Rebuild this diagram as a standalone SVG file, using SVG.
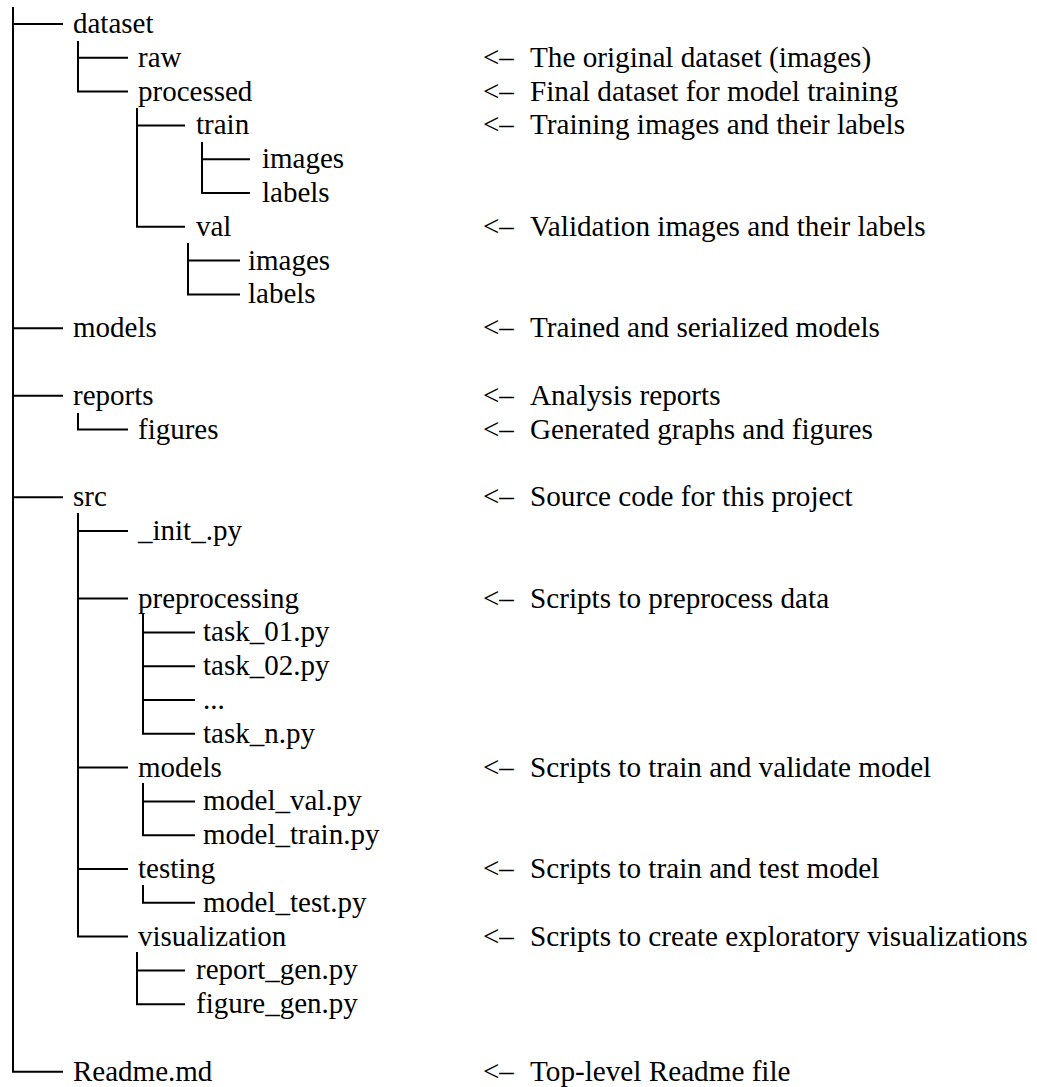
<svg xmlns="http://www.w3.org/2000/svg" width="1037" height="1087" viewBox="0 0 1037 1087">
<style>
text{font-family:'Liberation Serif','Times New Roman',serif;font-size:29px;fill:#000}
.d{font-size:29.2px}
.c path{fill:none;stroke:#000;stroke-width:2;stroke-linejoin:miter}
</style>
<rect width="1037" height="1087" fill="#fff"/>
<g id="connectors" class="c">
<path d="M13 7V1071.8H63M13 24H63M13 328.2H63M13 395.8H63M13 497.2H63"/>
<path d="M78 41V91.6H128M78 57.8H128"/>
<path d="M137 108V226.8H185M137 125.4H185"/>
<path d="M202 142V193H250M202 159.2H250"/>
<path d="M188 243V294.4H240M188 260.6H240"/>
<path d="M78 413V429.6H128"/>
<path d="M78 513V936.6H128M78 531H128M78 598.6H128M78 767.6H128M78 869H128"/>
<path d="M143 614V733.8H195M143 632.4H195M143 666.2H195M143 700H195"/>
<path d="M143 783V835.2H195M143 801.4H195"/>
<path d="M143 885V902.8H195"/>
<path d="M137 952V1004.2H185M137 970.4H185"/>
</g>
<g font-family="Liberation Serif, serif" font-size="29">
<g id="n-dataset"><text x="73" y="33">dataset</text></g>
<g id="n-raw"><text x="138" y="66.8">raw</text><text x="483" y="66.8">&lt;–</text><text class="d" x="530" y="66.8">The original dataset (images)</text></g>
<g id="n-processed"><text x="138" y="100.6">processed</text><text x="483" y="100.6">&lt;–</text><text class="d" x="530" y="100.6">Final dataset for model training</text></g>
<g id="n-train"><text x="196" y="134.4">train</text><text x="483" y="134.4">&lt;–</text><text class="d" x="530" y="134.4">Training images and their labels</text></g>
<g id="n-train-images"><text x="262" y="168.2">images</text></g>
<g id="n-train-labels"><text x="262" y="202">labels</text></g>
<g id="n-val"><text x="196" y="235.8">val</text><text x="483" y="235.8">&lt;–</text><text class="d" x="530" y="235.8">Validation images and their labels</text></g>
<g id="n-val-images"><text x="248" y="269.6">images</text></g>
<g id="n-val-labels"><text x="248" y="303.4">labels</text></g>
<g id="n-models"><text x="73" y="337.2">models</text><text x="483" y="337.2">&lt;–</text><text class="d" x="530" y="337.2">Trained and serialized models</text></g>
<g id="n-reports"><text x="73" y="404.8">reports</text><text x="483" y="404.8">&lt;–</text><text class="d" x="530" y="404.8">Analysis reports</text></g>
<g id="n-figures"><text x="138" y="438.6">figures</text><text x="483" y="438.6">&lt;–</text><text class="d" x="530" y="438.6">Generated graphs and figures</text></g>
<g id="n-src"><text x="73" y="506.2">src</text><text x="483" y="506.2">&lt;–</text><text class="d" x="530" y="506.2">Source code for this project</text></g>
<g id="n-init"><text x="138" y="540">_init_.py</text></g>
<g id="n-preprocessing"><text x="138" y="607.6">preprocessing</text><text x="483" y="607.6">&lt;–</text><text class="d" x="530" y="607.6">Scripts to preprocess data</text></g>
<g id="n-task01"><text x="203" y="641.4">task_01.py</text></g>
<g id="n-task02"><text x="203" y="675.2">task_02.py</text></g>
<g id="n-ellipsis"><text x="203" y="709">...</text></g>
<g id="n-taskn"><text x="203" y="742.8">task_n.py</text></g>
<g id="n-src-models"><text x="138" y="776.6">models</text><text x="483" y="776.6">&lt;–</text><text class="d" x="530" y="776.6">Scripts to train and validate model</text></g>
<g id="n-model-val"><text x="203" y="810.4">model_val.py</text></g>
<g id="n-model-train"><text x="203" y="844.2">model_train.py</text></g>
<g id="n-testing"><text x="138" y="878">testing</text><text x="483" y="878">&lt;–</text><text class="d" x="530" y="878">Scripts to train and test model</text></g>
<g id="n-model-test"><text x="203" y="911.8">model_test.py</text></g>
<g id="n-visualization"><text x="138" y="945.6">visualization</text><text x="483" y="945.6">&lt;–</text><text class="d" x="530" y="945.6">Scripts to create exploratory visualizations</text></g>
<g id="n-report-gen"><text x="196" y="979.4">report_gen.py</text></g>
<g id="n-figure-gen"><text x="196" y="1013.2">figure_gen.py</text></g>
<g id="n-readme"><text x="73" y="1080.8">Readme.md</text><text x="483" y="1080.8">&lt;–</text><text class="d" x="530" y="1080.8">Top-level Readme file</text></g>
</g>
</svg>
